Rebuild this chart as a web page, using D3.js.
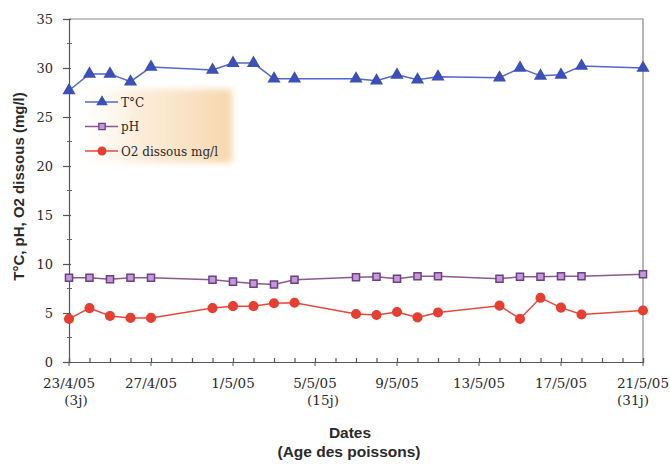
<!DOCTYPE html>
<html>
<head>
<meta charset="utf-8">
<script src="https://cdn.jsdelivr.net/npm/d3@7"></script>
<style>
  body { margin: 0; background: #fff; }
  svg { display: block; }
</style>
</head>
<body>
<div id="vis"></div>
<script>
// sampling dates (dd/m/yy)
var dates = ["23/4/05", "24/4/05", "25/4/05", "26/4/05", "27/4/05", "30/4/05", "1/5/05",
    "2/5/05", "3/5/05", "4/5/05", "7/5/05", "8/5/05", "9/5/05", "10/5/05", "11/5/05",
    "14/5/05", "15/5/05", "16/5/05", "17/5/05", "18/5/05", "21/5/05"];

var temp = [27.7, 29.4, 29.4, 28.6, 30.1, 29.8, 30.5, 30.5, 28.9, 28.9,
    28.9, 28.7, 29.3, 28.8, 29.1, 29.0, 30.0, 29.2, 29.3, 30.2, 30.0];
var ph = [8.6, 8.6, 8.45, 8.6, 8.6, 8.4, 8.2, 8.0, 7.9, 8.4,
    8.65, 8.7, 8.5, 8.75, 8.75, 8.5, 8.7, 8.7, 8.75, 8.75, 8.95];
var o2 = [4.4, 5.5, 4.7, 4.5, 4.5, 5.5, 5.7, 5.7, 6.0, 6.05,
    4.9, 4.8, 5.1, 4.55, 5.05, 5.75, 4.4, 6.55, 5.55, 4.85, 5.25];

var xTickLabels = ["23/4/05", "27/4/05", "1/5/05", "5/5/05", "9/5/05", "13/5/05", "17/5/05", "21/5/05"];
var ageLabels = {"23/4/05": "(3j)", "5/5/05": "(15j)", "21/5/05": "(31j)"};
var yTicks = [0, 5, 10, 15, 20, 25, 30, 35];
var seriesNames = ["T°C", "pH", "O2 dissous mg/l"];

var parse = d3.utcParse("%d/%m/%y");

var W = 670, H = 464;
var margin = {top: 19, left: 69, right: 27, bottom: 102};

var svg = d3.select("#vis").append("svg")
    .attr("width", W)
    .attr("height", H);

var x = d3.scaleUtc()
    .domain([parse(dates[0]), parse(dates[dates.length - 1])])
    .range([margin.left, W - margin.right]);
var y = d3.scaleLinear().domain([0, 35]).range([H - margin.bottom, margin.top]);

var defs = svg.append("defs");
var grad = defs.append("linearGradient").attr("id", "legbg");
grad.append("stop").attr("offset", "0%").attr("stop-color", "#fdf3e6").attr("stop-opacity", 0);
grad.append("stop").attr("offset", "35%").attr("stop-color", "#fcecd8").attr("stop-opacity", 0.9);
grad.append("stop").attr("offset", "100%").attr("stop-color", "#f6d7ad");
defs.append("filter").attr("id", "soft")
    .append("feGaussianBlur").attr("stdDeviation", 3);

// legend background glow
svg.append("rect")
    .attr("x", 84).attr("y", 89)
    .attr("width", 148).attr("height", 74)
    .attr("fill", "url(#legbg)")
    .attr("filter", "url(#soft)");

// frame (top and right)
svg.append("path")
    .attr("d", "M" + x.range()[0] + "," + y(35) + "H" + x.range()[1] + "V" + y(0))
    .attr("fill", "none")
    .attr("stroke", "#8a8a8a")
    .attr("stroke-width", 1.2);

// y axis
var yAxis = svg.append("g")
    .attr("transform", "translate(" + margin.left + ",0)")
    .call(d3.axisLeft(y).tickValues(yTicks).tickSize(6).tickPadding(10));
yAxis.selectAll(".tick line").attr("x1", -6).attr("x2", 2);
yAxis.selectAll("text")
    .style("font-family", "DejaVu Serif")
    .style("font-size", "13px")
    .attr("fill", "#2a2a2a");
yAxis.selectAll("path, line").attr("stroke", "#555").attr("stroke-width", 1.2);

// minor y ticks
svg.append("g").selectAll("line")
    .data(d3.range(2.5, 35, 5))
    .join("line")
    .attr("x1", margin.left - 2).attr("x2", margin.left + 3)
    .attr("y1", d => y(d)).attr("y2", d => y(d))
    .attr("stroke", "#666");

// x axis with daily ticks
var xAxis = svg.append("g")
    .attr("transform", "translate(0," + y(0) + ")")
    .call(d3.axisBottom(x).ticks(d3.utcDay.every(1)).tickSize(-4).tickFormat(""));
xAxis.selectAll("path, line").attr("stroke", "#555").attr("stroke-width", 1.2);

var major = svg.append("g").attr("transform", "translate(0," + y(0) + ")");
var ageDx = {"23/4/05": 7, "5/5/05": 8, "21/5/05": -10};
xTickLabels.forEach(function(t) {
    var px = x(parse(t));
    major.append("line")
        .attr("x1", px).attr("x2", px)
        .attr("y1", 0).attr("y2", 4)
        .attr("stroke", "#555");
    major.append("text")
        .attr("x", px).attr("y", 26)
        .attr("text-anchor", "middle")
        .style("font-family", "DejaVu Serif")
        .style("font-size", "13.5px")
        .attr("fill", "#2a2a2a")
        .text(t);
    if (ageLabels[t]) {
        major.append("text")
            .attr("x", px + ageDx[t]).attr("y", 43)
            .attr("text-anchor", "middle")
            .style("font-family", "DejaVu Serif")
            .style("font-size", "13.5px")
            .attr("fill", "#2a2a2a")
            .text(ageLabels[t]);
    }
});

// axis titles
svg.append("text")
    .attr("transform", "translate(24," + ((y(0) + y(35)) / 2 - 4) + ") rotate(-90)")
    .attr("text-anchor", "middle")
    .style("font-family", "Liberation Sans")
    .style("font-weight", "bold")
    .style("font-size", "15px")
    .attr("fill", "#2a2a2a")
    .text("T°C, pH, O2 dissous (mg/l)");

svg.append("text")
    .attr("x", 350).attr("y", 438)
    .attr("text-anchor", "middle")
    .style("font-family", "Liberation Sans")
    .style("font-weight", "bold")
    .style("font-size", "15.5px")
    .attr("fill", "#2a2a2a")
    .text("Dates");
svg.append("text")
    .attr("x", 349).attr("y", 457)
    .attr("text-anchor", "middle")
    .style("font-family", "Liberation Sans")
    .style("font-weight", "bold")
    .style("font-size", "15.5px")
    .attr("fill", "#2a2a2a")
    .text("(Age des poissons)");

// series
var styles = [
    {line: "#5266cc", fill: "#3b50b8", stroke: "#3b50b8", shape: d3.symbolTriangle, size: 48},
    {line: "#8a5a8c", fill: "#c49ad6", stroke: "#6b3f88", shape: d3.symbolSquare, size: 50},
    {line: "#e8483a", fill: "#e63e30", stroke: "#e63e30", shape: d3.symbolCircle, size: 58}
];
var series = [temp, ph, o2];

var line = d3.line()
    .x((d, i) => x(parse(dates[i])))
    .y(d => y(d));

series.forEach(function(vals, k) {
    var s = styles[k];
    svg.append("path")
        .datum(vals)
        .attr("d", line)
        .attr("fill", "none")
        .attr("stroke", s.line)
        .attr("stroke-width", 1.5);
    svg.append("g").selectAll("path")
        .data(vals)
        .join("path")
        .attr("transform", (d, i) => "translate(" + x(parse(dates[i])) + "," + y(d) + ")")
        .attr("d", d3.symbol().type(s.shape).size(s.size))
        .attr("fill", s.fill)
        .attr("stroke", s.stroke)
        .attr("stroke-width", 1.5);
});

// legend
var legend = svg.append("g");
seriesNames.forEach(function(name, k) {
    var s = styles[k];
    var ly = 102 + k * 24.5;
    legend.append("line")
        .attr("x1", 85).attr("x2", 118)
        .attr("y1", ly).attr("y2", ly)
        .attr("stroke", s.line)
        .attr("stroke-width", 1.5);
    legend.append("path")
        .attr("transform", "translate(102," + ly + ")")
        .attr("d", d3.symbol().type(s.shape).size(s.size * 0.8))
        .attr("fill", s.fill)
        .attr("stroke", s.stroke)
        .attr("stroke-width", 1.3);
    legend.append("text")
        .attr("x", 121).attr("y", ly + 4.5)
        .style("font-family", "DejaVu Serif")
        .style("font-size", "12px")
        .attr("fill", "#2a2a2a")
        .text(name);
});
</script>
</body>
</html>
